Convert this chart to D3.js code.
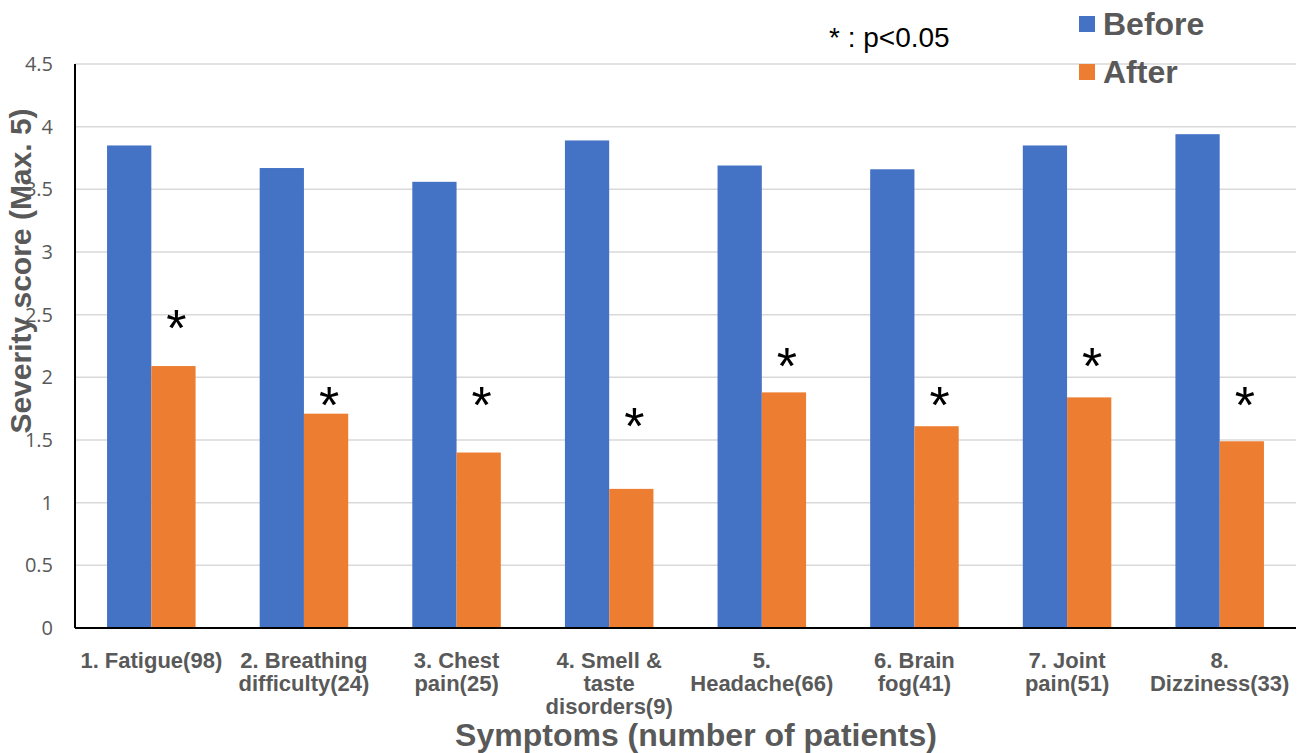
<!DOCTYPE html>
<html>
<head>
<meta charset="utf-8">
<script src="https://cdn.jsdelivr.net/npm/d3@7"></script>
<style>
body { margin: 0; background: #fff; }
svg { display: block; }
</style>
</head>
<body>
<svg id="chart" width="1306" height="753"></svg>
<script>
var categories = ["1. Fatigue(98)", "2. Breathing\ndifficulty(24)", "3. Chest\npain(25)",
	"4. Smell &\ntaste\ndisorders(9)", "5.\nHeadache(66)", "6. Brain\nfog(41)",
	"7. Joint\npain(51)", "8.\nDizziness(33)"];
var seriesNames = ["Before", "After"];
var before = [3.85, 3.67, 3.56, 3.89, 3.69, 3.66, 3.85, 3.94];
var after = [2.09, 1.71, 1.40, 1.11, 1.88, 1.61, 1.84, 1.49];
// level (in score units) where each significance star sits
var starLevels = [2.48, 1.87, 1.87, 1.70, 2.18, 1.87, 2.18, 1.87];
var yTicks = [0, 0.5, 1, 1.5, 2, 2.5, 3, 3.5, 4, 4.5];

var colors = ["#4472C4", "#ED7D31"];
var grey = "#595959";

var svg = d3.select("#chart");
var plotLeft = 75, plotRight = 1296, plotTop = 64, plotBottom = 628;

var x = d3.scaleBand()
	.domain(categories)
	.range([plotLeft, plotRight])
	.paddingInner(0.42)
	.paddingOuter(0.21);

var xInner = d3.scaleBand()
	.domain(seriesNames)
	.range([0, x.bandwidth()]);

var y = d3.scaleLinear()
	.domain([0, 4.5])
	.range([plotBottom, plotTop]);

// gridlines
svg.append("g")
	.selectAll("line")
	.data(yTicks.slice(1))
	.enter().append("line")
	.attr("x1", plotLeft)
	.attr("x2", plotRight)
	.attr("y1", function (d) { return y(d); })
	.attr("y2", function (d) { return y(d); })
	.style("stroke", "#d9d9d9")
	.style("stroke-width", 1.5);

// y tick labels
var yAxis = svg.append("g")
	.attr("transform", "translate(" + plotLeft + ",0)")
	.call(d3.axisLeft(y).tickValues(yTicks).tickSize(0).tickPadding(22)
		.tickFormat(function (d) { return String(d); }));
yAxis.select(".domain").remove();
yAxis.selectAll("text")
	.style("fill", grey)
	.style("font-family", "'Open Sans', 'Liberation Sans', sans-serif")
	.style("font-size", "20px");

// bars
var groups = svg.append("g")
	.selectAll("g")
	.data(categories)
	.enter().append("g")
	.attr("transform", function (d) { return "translate(" + x(d) + ",0)"; });

groups.selectAll("rect")
	.data(function (d, i) {
		return [{ key: "Before", value: before[i] }, { key: "After", value: after[i] }];
	})
	.enter().append("rect")
	.attr("x", function (d) { return xInner(d.key); })
	.attr("y", function (d) { return y(d.value); })
	.attr("width", xInner.bandwidth())
	.attr("height", function (d) { return y(0) - y(d.value); })
	.style("fill", function (d, i) { return colors[i]; });

// stars
svg.append("g")
	.selectAll("text")
	.data(categories)
	.enter().append("text")
	.attr("x", function (d) { return x(d) + xInner("After") + xInner.bandwidth() / 2 + 3; })
	.attr("y", function (d, i) { return y(starLevels[i]) + 29; })
	.style("text-anchor", "middle")
	.style("font-family", "'Liberation Sans', Arial, sans-serif")
	.style("font-size", "52px")
	.style("fill", "#000")
	.text("*");

// axis lines
svg.append("line")
	.attr("x1", plotLeft).attr("x2", plotLeft)
	.attr("y1", plotTop).attr("y2", plotBottom)
	.style("stroke", "#000").style("stroke-width", 2);
svg.append("line")
	.attr("x1", plotLeft).attr("x2", plotRight)
	.attr("y1", plotBottom).attr("y2", plotBottom)
	.style("stroke", "#000").style("stroke-width", 2);

// category labels
var catLabels = svg.append("g")
	.selectAll("text")
	.data(categories)
	.enter().append("text")
	.attr("x", function (d) { return x(d) + x.bandwidth() / 2; })
	.attr("y", 668)
	.style("text-anchor", "middle")
	.style("fill", grey)
	.style("font-family", "'Liberation Sans Narrow', 'Arial Narrow', 'Liberation Sans', sans-serif")
	.style("font-weight", "bold")
	.style("font-size", "22px");

catLabels.selectAll("tspan")
	.data(function (d) { return d.split("\n"); })
	.enter().append("tspan")
	.attr("x", function () { var p = d3.select(this.parentNode).datum(); return x(p) + x.bandwidth() / 2; })
	.attr("dy", function (d, i) { return i === 0 ? 0 : 23; })
	.text(function (d) { return d; });

// axis titles
svg.append("text")
	.attr("transform", "translate(31,271) rotate(-90)")
	.style("text-anchor", "middle")
	.style("fill", grey)
	.style("font-family", "'Liberation Sans', Arial, sans-serif")
	.style("font-weight", "bold")
	.style("font-size", "30px")
	.text("Severity score (Max. 5)");

svg.append("text")
	.attr("x", 696)
	.attr("y", 746)
	.style("text-anchor", "middle")
	.style("fill", grey)
	.style("font-family", "'Liberation Sans', Arial, sans-serif")
	.style("font-weight", "bold")
	.style("font-size", "32px")
	.text("Symptoms (number of patients)");

// note
svg.append("text")
	.attr("x", 829)
	.attr("y", 47)
	.style("fill", "#000")
	.style("font-family", "'Liberation Sans', Arial, sans-serif")
	.style("font-size", "28px")
	.text("* : p<0.05");

// legend
var legend = svg.append("g")
	.selectAll("g")
	.data(seriesNames)
	.enter().append("g")
	.attr("transform", function (d, i) { return "translate(1079," + (16 + i * 48) + ")"; });

legend.append("rect")
	.attr("width", 16)
	.attr("height", 16)
	.style("fill", function (d, i) { return colors[i]; });

legend.append("text")
	.attr("x", 24)
	.attr("y", 19)
	.style("fill", grey)
	.style("font-family", "'Liberation Sans', Arial, sans-serif")
	.style("font-weight", "bold")
	.style("font-size", "32px")
	.text(function (d) { return d; });
</script>
</body>
</html>
